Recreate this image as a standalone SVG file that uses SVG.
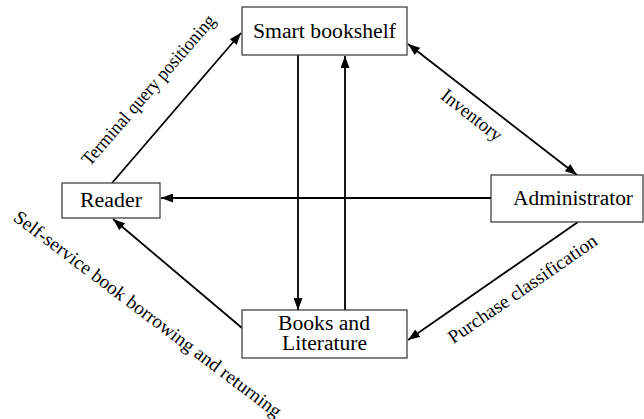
<svg xmlns="http://www.w3.org/2000/svg" width="644" height="419" viewBox="0 0 644 419">
<style>
.box{fill:#fff;stroke:#333;stroke-width:1.2}
.t{font-family:"Liberation Serif","Times New Roman",serif;font-size:20px;fill:#000;text-anchor:middle}
.lbl{font-family:"Liberation Serif","Times New Roman",serif;font-size:19px;fill:#000;text-anchor:middle}
.c{stroke:#000;stroke-width:1.8;fill:none}
</style>
<defs>
<marker id="ah" markerUnits="userSpaceOnUse" markerWidth="13" markerHeight="9" refX="12" refY="4.5" orient="auto-start-reverse">
<path d="M0,0 L12,4.5 L0,9 z" fill="#000"/>
</marker>
</defs>
<g id="connectors">
<line class="c" x1="112" y1="183" x2="241" y2="33" marker-end="url(#ah)"/>
<line class="c" x1="242" y1="328" x2="113" y2="219" marker-end="url(#ah)"/>
<line class="c" x1="491" y1="198" x2="161" y2="198" marker-end="url(#ah)"/>
<line class="c" x1="578" y1="222" x2="408" y2="340" marker-end="url(#ah)"/>
<line class="c" x1="408" y1="44" x2="577" y2="175" marker-start="url(#ah)" marker-end="url(#ah)"/>
<line class="c" x1="298" y1="55" x2="298" y2="310" marker-end="url(#ah)"/>
<line class="c" x1="345" y1="310" x2="345" y2="56" marker-end="url(#ah)"/>
<text class="lbl" x="153" y="94" transform="rotate(-49 153 94)" textLength="193" lengthAdjust="spacingAndGlyphs">Terminal query positioning</text>
<text class="lbl" x="468" y="120" transform="rotate(38 468 120)" textLength="72" lengthAdjust="spacingAndGlyphs">Inventory</text>
<text class="lbl" x="526" y="294" transform="rotate(-34.6 526 294)" textLength="177" lengthAdjust="spacingAndGlyphs">Purchase classification</text>
<text class="lbl" x="144" y="319" transform="rotate(37 144 319)" textLength="330" lengthAdjust="spacingAndGlyphs">Self-service book borrowing and returning</text>
</g>
<g id="smart-bookshelf">
<rect class="box" x="242" y="7" width="165" height="48"/>
<text class="t" x="324.5" y="37.5" textLength="143" lengthAdjust="spacingAndGlyphs">Smart bookshelf</text>
</g>
<g id="reader">
<rect class="box" x="62" y="183" width="98" height="35"/>
<text class="t" x="111" y="206.5" textLength="62" lengthAdjust="spacingAndGlyphs">Reader</text>
</g>
<g id="administrator">
<rect class="box" x="491" y="175" width="152" height="47"/>
<text class="t" x="573" y="204.5" textLength="120" lengthAdjust="spacingAndGlyphs">Administrator</text>
</g>
<g id="books-literature">
<rect class="box" x="242" y="310" width="165" height="48"/>
<text class="t" x="324" y="329.5" textLength="92" lengthAdjust="spacingAndGlyphs">Books and</text>
<text class="t" x="324.5" y="349.5" textLength="85" lengthAdjust="spacingAndGlyphs">Literature</text>
</g>
</svg>
